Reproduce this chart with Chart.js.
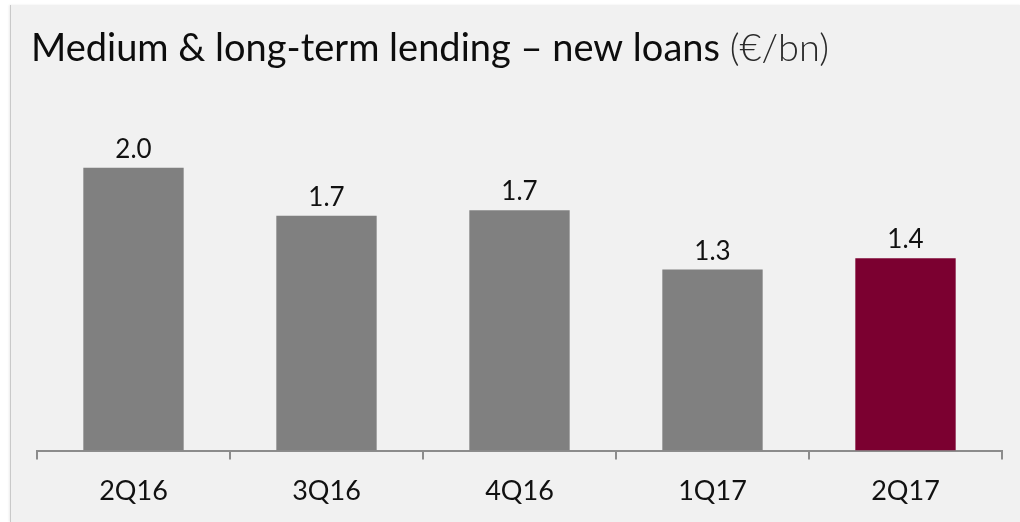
<!DOCTYPE html>
<html>
<head>
<meta charset="utf-8">
<script src="https://cdn.jsdelivr.net/npm/chart.js@4/dist/chart.umd.min.js"></script>
<style>
  html, body { margin: 0; padding: 0; background: #ffffff; }
  body { width: 1020px; height: 522px; position: relative; overflow: hidden; }
  #panel {
    position: absolute; left: 10px; top: 5px; width: 1010px; height: 517px;
    background: #f1f1f1; border-left: 1px solid #c9c9c9;
    box-shadow: -1px 0 2px rgba(0,0,0,0.08);
  }
  #wrap { position: absolute; left: 0; top: 0; width: 1020px; height: 522px; }
</style>
</head>
<body>
<div id="panel"></div>
<div id="wrap"><canvas id="chart" width="1020" height="522"></canvas></div>
<script>
// Quarterly new medium & long-term loans, €bn
const quarters = ['2Q16', '3Q16', '4Q16', '1Q17', '2Q17'];
const newLoans = [2.0, 1.66, 1.70, 1.28, 1.36];
const titleMain = 'Medium & long-term lending \u2013 new loans ';
const titleUnit = '(\u20AC/bn)';

const GREY = '#808080';
const CLARET = '#7b0030';
const barColors = quarters.map((q, i) => i === quarters.length - 1 ? CLARET : GREY);

const FONT = 'Lato, "Open Sans", sans-serif';

// Heading drawn in two weights: regular main text plus a light unit suffix
const headingPlugin = {
  id: 'heading',
  afterDraw(chart) {
    const ctx = chart.ctx;
    ctx.save();
    ctx.textBaseline = 'alphabetic';
    ctx.textAlign = 'left';
    ctx.font = '400 38px ' + FONT;
    ctx.fillStyle = '#0d0d0d';
    ctx.fillText(titleMain, 31, 61);
    const w = ctx.measureText(titleMain).width;
    ctx.font = '300 38px ' + FONT;
    ctx.fillStyle = '#2a2a2a';
    ctx.fillText(titleUnit, 31 + w, 61);
    ctx.restore();
  }
};

// Value printed above each bar, formatted from the bar's own value
const valueLabels = {
  id: 'valueLabels',
  afterDatasetsDraw(chart) {
    const ctx = chart.ctx;
    const meta = chart.getDatasetMeta(0);
    const values = chart.data.datasets[0].data;
    ctx.save();
    ctx.font = '400 26px ' + FONT;
    ctx.fillStyle = '#111111';
    ctx.textAlign = 'center';
    ctx.textBaseline = 'alphabetic';
    meta.data.forEach((bar, i) => {
      ctx.fillText(values[i].toFixed(1), bar.x, bar.y - 10);
    });
    ctx.restore();
  }
};

new Chart(document.getElementById('chart'), {
  type: 'bar',
  data: {
    labels: quarters,
    datasets: [{
      data: newLoans,
      backgroundColor: barColors,
      borderWidth: 0,
      barPercentage: 0.52,
      categoryPercentage: 1.0
    }]
  },
  options: {
    responsive: false,
    animation: false,
    events: [],
    layout: { padding: { left: 37, right: 18, top: 97, bottom: 0 } },
    plugins: {
      legend: { display: false },
      tooltip: { enabled: false },
      title: { display: false }
    },
    scales: {
      x: {
        grid: {
          display: true,
          offset: true,
          drawOnChartArea: false,
          drawTicks: true,
          tickLength: 9,
          color: '#8c8c8c',
          lineWidth: 2
        },
        border: { display: true, color: '#8c8c8c', width: 2 },
        ticks: {
          color: '#111111',
          font: { family: FONT, size: 27 },
          padding: 15
        }
      },
      y: {
        display: false,
        min: 0,
        max: 2.5
      }
    }
  },
  plugins: [headingPlugin, valueLabels]
});
</script>
</body>
</html>
